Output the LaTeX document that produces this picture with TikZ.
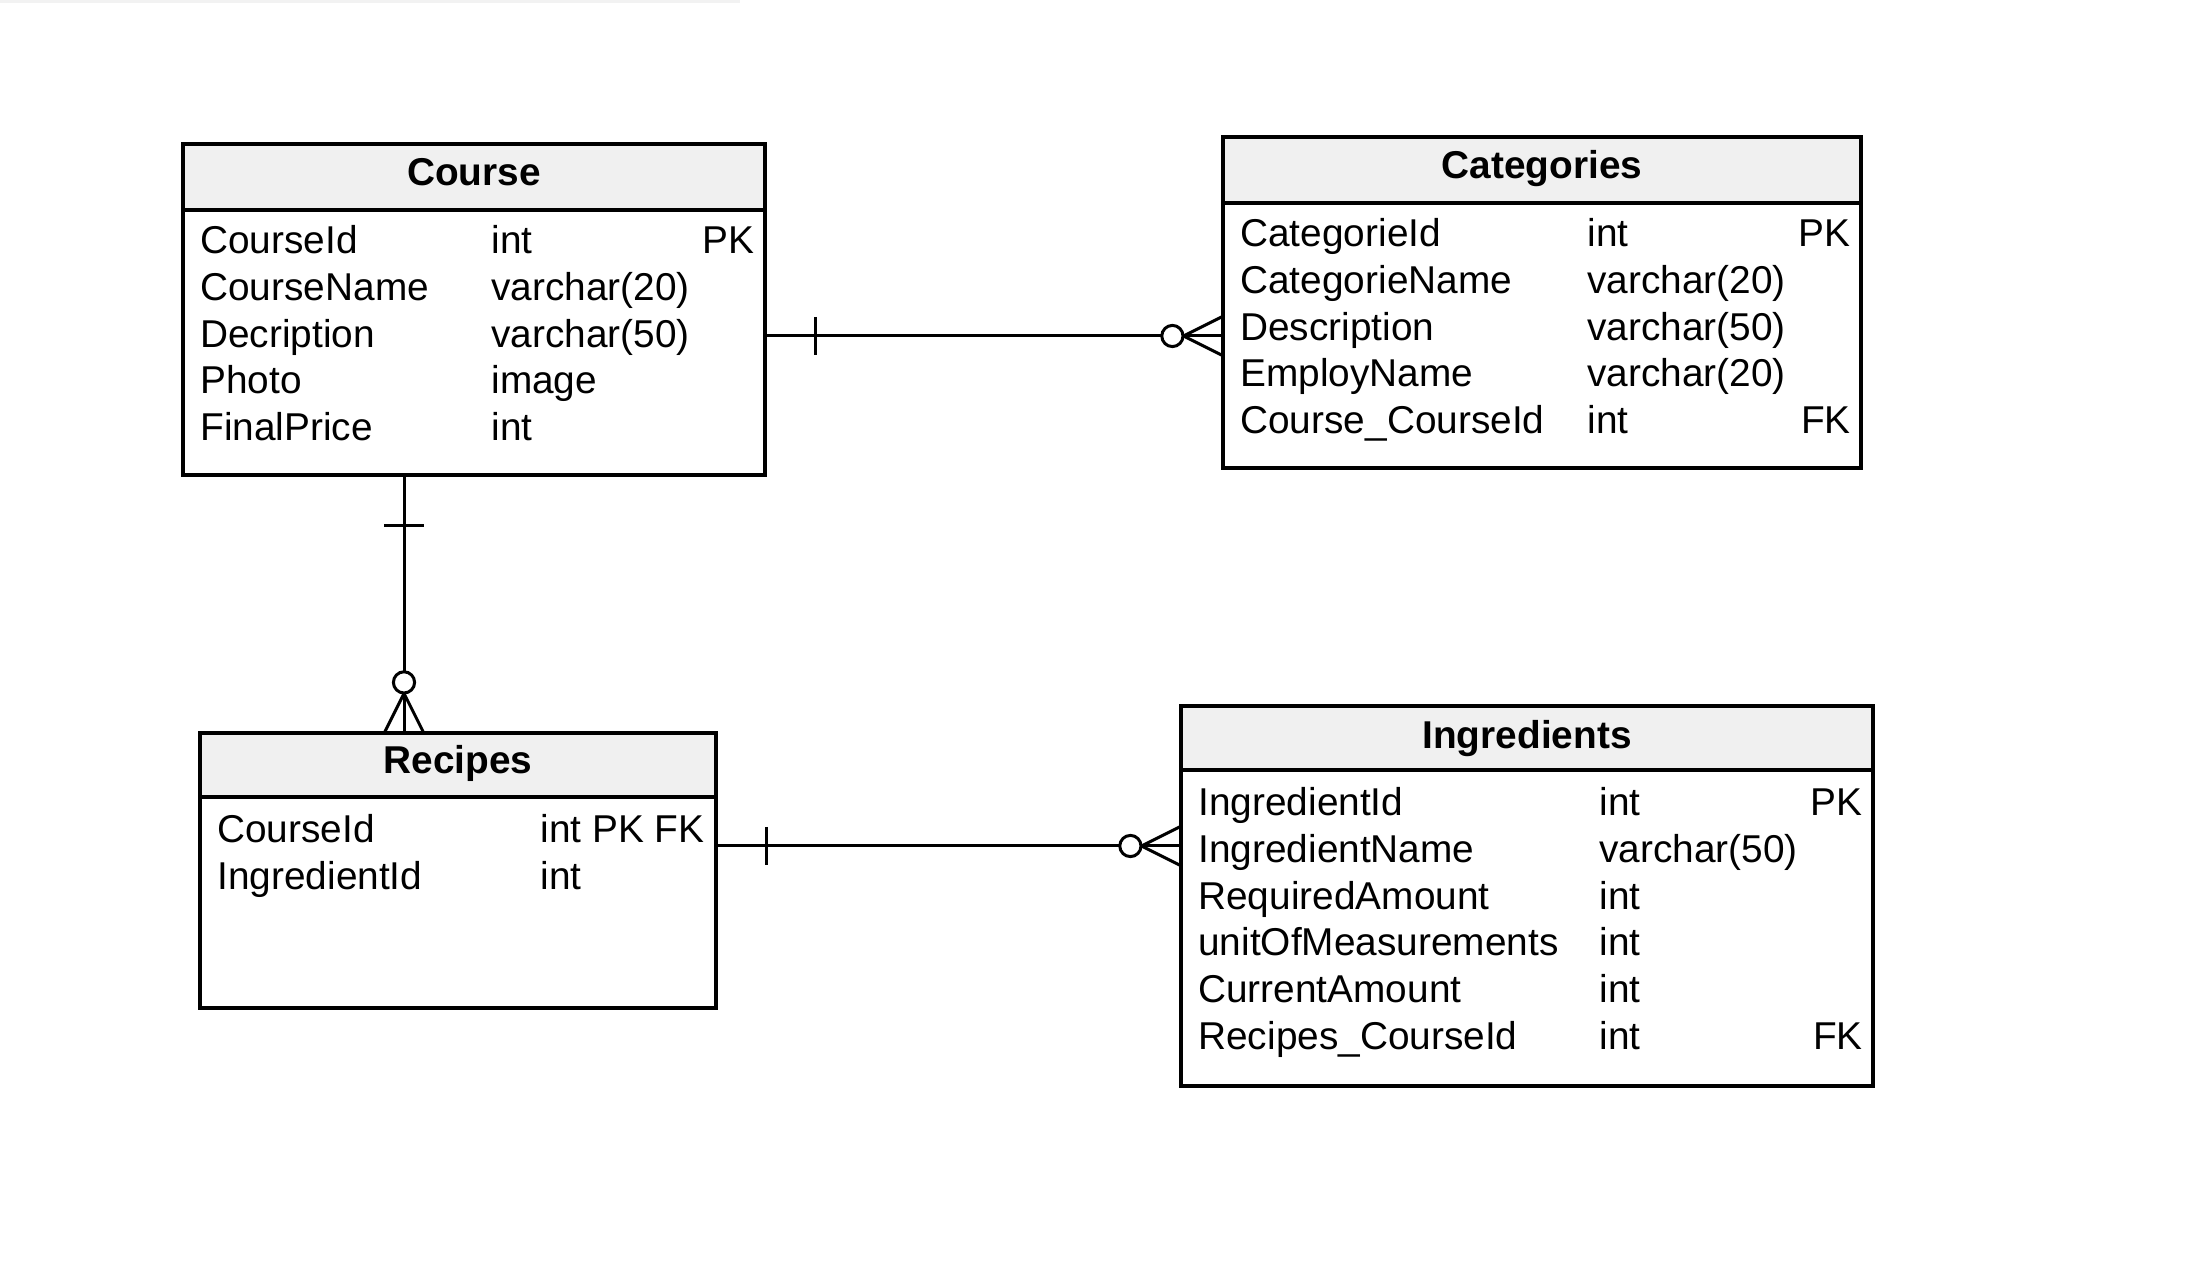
\documentclass[tikz,border=0pt]{standalone}
\usepackage{fontspec}
\setmainfont{Liberation Sans}
\usetikzlibrary{fit,calc}
\definecolor{hdrgray}{HTML}{F0F0F0}
\definecolor{shadegray}{HTML}{F2F2F2}
\begin{document}
\begin{tikzpicture}[x=0.5pt,y=-0.5pt,
  tbl/.style={draw, line width=1.6pt, inner sep=0pt},
  hdr/.style={draw, fill=hdrgray, line width=1.6pt, inner sep=0pt},
  ttl/.style={font=\fontsize{19.4pt}{23pt}\selectfont\bfseries, anchor=base, inner sep=0pt},
  fld/.style={font=\fontsize{19.4pt}{23pt}\selectfont, anchor=base west, inner sep=0pt},
  keycol/.style={font=\fontsize{19.4pt}{23pt}\selectfont, anchor=base east, inner sep=0pt},
  rel/.style={line width=1.5pt},
]
\useasboundingbox (0,0) rectangle (2192,1277);
\fill[shadegray] (0,0) rectangle (740,3);

% ---------- Course ----------
\node[tbl, fit={(183,144) (765,475)}] (course) {};
\node[hdr, fit={(183,144) (765,210)}] (courseH) {};
\node[ttl] (courseT) at (474,185.5) {Course};
\node[fld] (c1n) at (200,253.5) {CourseId};
\node[fld] (c1t) at (491,253.5) {int};
\node[keycol] (c1k) at (755,253.5) {PK};
\node[fld] (c2n) at (200,300.3) {CourseName};
\node[fld] (c2t) at (491,300.3) {varchar(20)};
\node[fld] (c3n) at (200,347.1) {Decription};
\node[fld] (c3t) at (491,347.1) {varchar(50)};
\node[fld] (c4n) at (200,393.9) {Photo};
\node[fld] (c4t) at (491,393.9) {image};
\node[fld] (c5n) at (200,440.7) {FinalPrice};
\node[fld] (c5t) at (491,440.7) {int};

% ---------- Categories ----------
\node[tbl, fit={(1223,137) (1861,468)}] (cat) {};
\node[hdr, fit={(1223,137) (1861,203)}] (catH) {};
\node[ttl] (catT) at (1542,178.5) {Categories};
\node[fld] (k1n) at (1240,246.5) {CategorieId};
\node[fld] (k1t) at (1587,246.5) {int};
\node[keycol] (k1k) at (1851,246.5) {PK};
\node[fld] (k2n) at (1240,293.3) {CategorieName};
\node[fld] (k2t) at (1587,293.3) {varchar(20)};
\node[fld] (k3n) at (1240,340.1) {Description};
\node[fld] (k3t) at (1587,340.1) {varchar(50)};
\node[fld] (k4n) at (1240,386.9) {EmployName};
\node[fld] (k4t) at (1587,386.9) {varchar(20)};
\node[fld] (k5n) at (1240,433.7) {Course\_CourseId};
\node[fld] (k5t) at (1587,433.7) {int};
\node[keycol] (k5k) at (1851,433.7) {FK};

% ---------- Recipes ----------
\node[tbl, fit={(200,733) (716,1008)}] (rec) {};
\node[hdr, fit={(200,733) (716,797)}] (recH) {};
\node[ttl] (recT) at (458,773.5) {Recipes};
\node[fld] (r1n) at (217,842.5) {CourseId};
\node[fld] (r1t) at (540,842.5) {int PK FK};
\node[fld] (r2n) at (217,889.3) {IngredientId};
\node[fld] (r2t) at (540,889.3) {int};

% ---------- Ingredients ----------
\node[tbl, fit={(1181,706) (1873,1086)}] (ing) {};
\node[hdr, fit={(1181,706) (1873,770)}] (ingH) {};
\node[ttl] (ingT) at (1527,748.5) {Ingredients};
\node[fld] (i1n) at (1198,815.5) {IngredientId};
\node[fld] (i1t) at (1599,815.5) {int};
\node[keycol] (i1k) at (1863,815.5) {PK};
\node[fld] (i2n) at (1198,862.3) {IngredientName};
\node[fld] (i2t) at (1599,862.3) {varchar(50)};
\node[fld] (i3n) at (1198,909.1) {RequiredAmount};
\node[fld] (i3t) at (1599,909.1) {int};
\node[fld] (i4n) at (1198,955.9) {unitOfMeasurements};
\node[fld] (i4t) at (1599,955.9) {int};
\node[fld] (i5n) at (1198,1002.7) {CurrentAmount};
\node[fld] (i5t) at (1599,1002.7) {int};
\node[fld] (i6n) at (1198,1049.5) {Recipes\_CourseId};
\node[fld] (i6t) at (1599,1049.5) {int};
\node[keycol] (i6k) at (1863,1049.5) {FK};

% ---------- Relation Course -- Categories ----------
\coordinate (courseR) at (course.east |- 0,336);
\coordinate (catL) at (cat.west |- 0,336);
\draw[rel] (courseR) -- (catL);
\draw[rel] ($(courseR)+(49,-19)$) -- ($(courseR)+(49,19)$);
\draw[rel] ($(catL)+(-38,0)$) -- ($(catL)+(0,-19)$);
\draw[rel] ($(catL)+(-38,0)$) -- ($(catL)+(0,19)$);
\draw[rel, fill=white] ($(catL)+(-49,0)$) circle[radius=5.3pt];

% ---------- Relation Course -- Recipes ----------
\coordinate (courseB) at (course.south -| 404,0);
\coordinate (recTop) at (rec.north -| 404,0);
\draw[rel] (courseB) -- (recTop);
\draw[rel] ($(courseB)+(-20,49)$) -- ($(courseB)+(20,49)$);
\draw[rel] ($(recTop)+(0,-38)$) -- ($(recTop)+(-19,0)$);
\draw[rel] ($(recTop)+(0,-38)$) -- ($(recTop)+(19,0)$);
\draw[rel, fill=white] ($(recTop)+(0,-49)$) circle[radius=5.3pt];

% ---------- Relation Recipes -- Ingredients ----------
\coordinate (recR) at (rec.east |- 0,846);
\coordinate (ingL) at (ing.west |- 0,846);
\draw[rel] (recR) -- (ingL);
\draw[rel] ($(recR)+(49,-19)$) -- ($(recR)+(49,19)$);
\draw[rel] ($(ingL)+(-38,0)$) -- ($(ingL)+(0,-19)$);
\draw[rel] ($(ingL)+(-38,0)$) -- ($(ingL)+(0,19)$);
\draw[rel, fill=white] ($(ingL)+(-49,0)$) circle[radius=5.3pt];
\end{tikzpicture}
\end{document}
